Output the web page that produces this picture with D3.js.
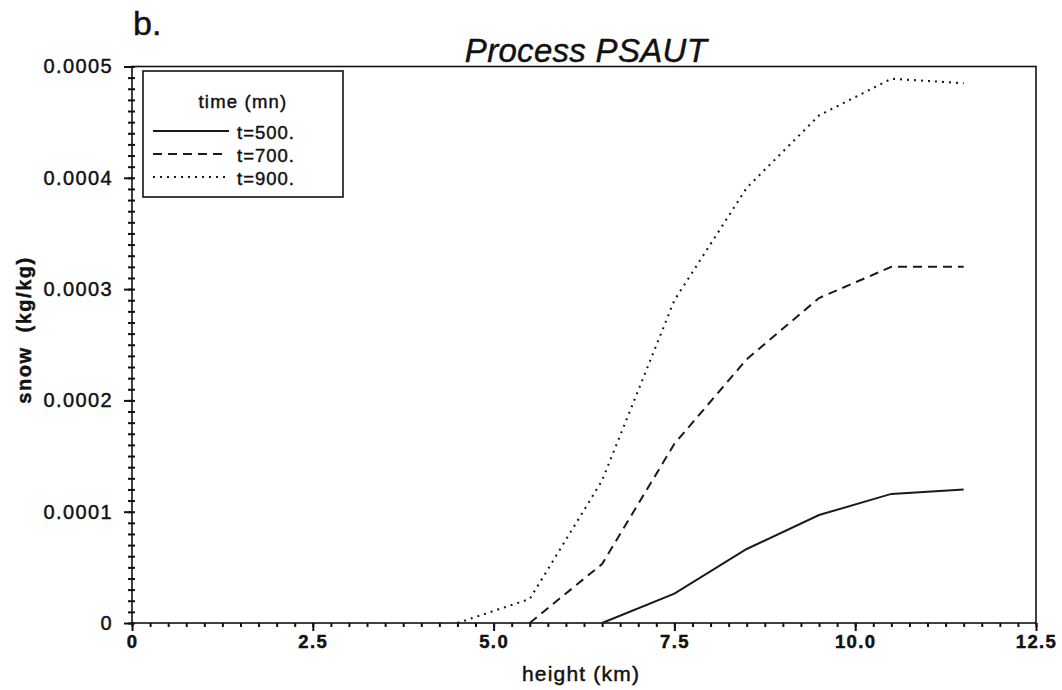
<!DOCTYPE html>
<html lang="en">
<head>
    <meta charset="UTF-8">
    <script src="https://d3js.org/d3.v7.min.js"></script>
    <title>Process PSAUT</title>
    <style>
        body { margin: 0; background: #fff; }
        text { font-family: "Liberation Sans", Arial, sans-serif; fill: #111; stroke: #111; stroke-width: 0.45px; }
    </style>
</head>
<body>
    <svg id="chart" width="1062" height="690"></svg>
    <script>
        // heights (km) where the profiles are sampled
        const heights = [4.5, 5.5, 6.5, 7.5, 8.5, 9.5, 10.5, 11.5];
        // snow mixing ratio (kg/kg), null = no line drawn there
        const t500 = [null, null, 0, 0.0000264, 0.0000665, 0.000097, 0.000116, 0.00012];
        const t700 = [null, 0, 0.000053, 0.000161, 0.000237, 0.000292, 0.00032, 0.00032];
        const t900 = [0, 0.0000216, 0.000128, 0.00029, 0.000391, 0.000456, 0.000489, 0.000485];

        const seriesNames = ["t=500.", "t=700.", "t=900."];
        const xTicks = [0, 2.5, 5, 7.5, 10, 12.5];
        const yTicks = [0, 0.0001, 0.0002, 0.0003, 0.0004, 0.0005];

        const svg = d3.select("#chart");
        const x = d3.scaleLinear().domain([0, 12.5]).range([132, 1036]);
        const y = d3.scaleLinear().domain([0, 0.0005]).range([623, 66.5]);

        const dashes = [null, "9,6", "2,5"];
        const series = [t500, t700, t900].map((vals, i) => ({
            name: seriesNames[i],
            dash: dashes[i],
            points: heights.map((h, j) => ({ h: h, v: vals[j] }))
        }));

        // minor ticks
        svg.append("g")
            .attr("transform", "translate(0," + y(0) + ")")
            .call(d3.axisBottom(x).tickValues(d3.range(0, 12.5001, 0.25)).tickSize(4).tickFormat(""))
            .call(g => g.select(".domain").remove())
            .selectAll("line").attr("stroke", "#111").attr("stroke-width", 2);

        svg.append("g")
            .attr("transform", "translate(" + x(0) + ",0)")
            .call(d3.axisLeft(y).tickValues(d3.range(0, 51).map(d => d * 0.00001)).tickSize(4).tickFormat(""))
            .call(g => g.select(".domain").remove())
            .selectAll("line").attr("stroke", "#111").attr("stroke-width", 2).attr("x2", 3).attr("x1", -4);

        // major ticks + labels
        const xAxis = svg.append("g")
            .attr("transform", "translate(0," + y(0) + ")")
            .call(d3.axisBottom(x).tickValues(xTicks).tickSizeInner(8).tickSizeOuter(0).tickPadding(4)
                .tickFormat(d => d === 0 ? "0" : d.toFixed(1)));
        xAxis.select(".domain").remove();
        xAxis.selectAll("line").attr("stroke", "#111").attr("stroke-width", 2);
        xAxis.selectAll("text")
            .style("font-family", "'Liberation Sans', Arial, sans-serif")
            .style("font-size", "18.5px").style("font-weight", "bold")
            .style("letter-spacing", "1.4px").attr("fill", "#111");

        const yAxis = svg.append("g")
            .attr("transform", "translate(" + x(0) + ",0)")
            .call(d3.axisLeft(y).tickValues(yTicks).tickSizeInner(8).tickSizeOuter(0).tickPadding(11)
                .tickFormat(d => d === 0 ? "0" : d.toFixed(4)));
        yAxis.select(".domain").remove();
        yAxis.selectAll("line").attr("stroke", "#111").attr("stroke-width", 2);
        yAxis.selectAll("text")
            .style("font-family", "'Liberation Sans', Arial, sans-serif")
            .style("font-size", "20px").style("letter-spacing", "1.4px").attr("fill", "#111");

        // frame
        svg.append("rect")
            .attr("x", x(0)).attr("y", y(0.0005))
            .attr("width", x(12.5) - x(0)).attr("height", y(0) - y(0.0005))
            .attr("fill", "none").attr("stroke", "#111").attr("stroke-width", 1.6);

        // profiles
        const line = d3.line()
            .defined(d => d.v !== null)
            .x(d => x(d.h))
            .y(d => y(d.v));

        svg.append("g").selectAll("path")
            .data(series)
            .enter().append("path")
            .attr("d", d => line(d.points))
            .attr("fill", "none")
            .attr("stroke", "#1a1a1a")
            .attr("stroke-width", d => d.dash === "2,5" ? 2.1 : 2)
            .attr("stroke-dasharray", d => d.dash);

        // titles
        svg.append("text")
            .attr("x", 133).attr("y", 35)
            .style("font-size", "34px")
            .text("b.");

        svg.append("text")
            .attr("x", (x(0) + x(12.5)) / 2 + 2).attr("y", 62)
            .attr("text-anchor", "middle")
            .style("font-size", "33px").style("font-style", "italic").style("letter-spacing", "0.3px")
            .text("Process PSAUT");

        svg.append("text")
            .attr("x", x(6.25) - 3).attr("y", 681)
            .attr("text-anchor", "middle")
            .style("font-size", "21px").style("letter-spacing", "1.2px")
            .text("height (km)");

        svg.append("text")
            .attr("transform", "translate(31,330) rotate(-90)")
            .attr("text-anchor", "middle")
            .style("font-size", "20px").style("font-weight", "bold").style("letter-spacing", "1.5px")
            .style("white-space", "pre")
            .text("snow  (kg/kg)");

        // legend
        const legend = svg.append("g");
        legend.append("rect")
            .attr("x", 143).attr("y", 71).attr("width", 200).attr("height", 126)
            .attr("fill", "#fff").attr("stroke", "#111").attr("stroke-width", 1.6);
        legend.append("text")
            .attr("x", 243).attr("y", 108)
            .attr("text-anchor", "middle")
            .style("font-size", "18.5px").style("letter-spacing", "1.2px")
            .text("time (mn)");

        const rows = legend.selectAll("g.row")
            .data(series)
            .enter().append("g")
            .attr("class", "row")
            .attr("transform", (d, i) => "translate(0," + (131 + i * 23) + ")");
        rows.append("line")
            .attr("x1", 153).attr("x2", d => d.dash === "9,6" ? 222 : 229)
            .attr("stroke", "#1a1a1a").attr("stroke-width", 2)
            .attr("stroke-dasharray", d => d.dash);
        rows.append("text")
            .attr("x", 237).attr("y", 8)
            .style("font-size", "18.5px").style("letter-spacing", "1px")
            .text(d => d.name);
    </script>
</body>
</html>
